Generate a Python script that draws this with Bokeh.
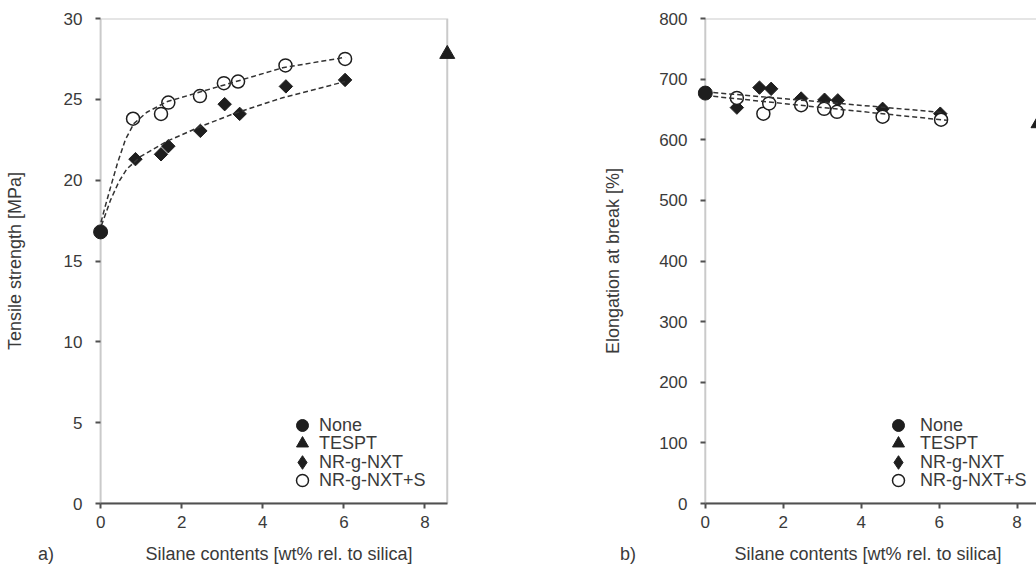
import numpy as np
from bokeh.plotting import figure
from bokeh.layouts import row, column
from bokeh.models import Legend, LegendItem, Range1d, FixedTicker, BoxAnnotation, Div
from bokeh.embed import file_html
from bokeh.resources import INLINE

# ---------------- data ----------------
series_labels = ["None", "TESPT", "NR-g-NXT", "NR-g-NXT+S"]
panel_tags = ["a)", "b)"]
x_label = "Silane contents [wt% rel. to silica]"
x_ticks = [0, 2, 4, 6, 8]
x_max = 8.55

# panel a) tensile strength
a_ylabel = "Tensile strength [MPa]"
a_ticks = [0, 5, 10, 15, 20, 25, 30]
a_ymax = 30
a_none_x = [0.0]
a_none_y = [16.8]
a_tespt_x = [8.55]
a_tespt_y = [27.8]
a_nxt_x = [0.86, 1.49, 1.67, 2.46, 3.06, 3.43, 4.57, 6.03]
a_nxt_y = [21.3, 21.6, 22.1, 23.05, 24.7, 24.1, 25.8, 26.2]
a_nxts_x = [0.80, 1.49, 1.67, 2.45, 3.04, 3.39, 4.56, 6.03]
a_nxts_y = [23.8, 24.1, 24.8, 25.2, 26.0, 26.1, 27.1, 27.5]
a_fit_nxt_x = [0.02, 0.25, 0.45, 0.65, 0.98, 1.63, 2.45, 3.27, 4.49, 6.03]
a_fit_nxt_y = [17.2, 18.8, 19.9, 20.7, 21.45, 22.4, 23.3, 24.1, 25.1, 26.1]
a_fit_nxts_x = [0.01, 0.11, 0.25, 0.41, 0.61, 0.82, 1.14, 1.63, 2.45, 3.27, 4.49, 6.03]
a_fit_nxts_y = [17.4, 18.35, 19.6, 21.0, 22.5, 23.5, 24.2, 24.85, 25.45, 26.05, 26.95, 27.6]

# panel b) elongation at break
b_ylabel = "Elongation at break [%]"
b_ticks = [0, 100, 200, 300, 400, 500, 600, 700, 800]
b_ymax = 800
b_none_x = [0.0]
b_none_y = [677]
b_tespt_x = [8.55]
b_tespt_y = [627]
b_nxt_x = [0.81, 1.39, 1.69, 2.46, 3.06, 3.40, 4.55, 6.03]
b_nxt_y = [653, 686, 684, 668, 666, 665, 651, 643]
b_nxts_x = [0.81, 1.49, 1.64, 2.46, 3.05, 3.38, 4.55, 6.05]
b_nxts_y = [669, 643, 660, 657, 651, 646, 638, 633]
b_fit_nxt_x = [0.0, 6.1]
b_fit_nxt_y = [679, 645]
b_fit_nxts_x = [0.0, 6.2]
b_fit_nxts_y = [673, 632]

# ---------------- style ----------------
FONT = "Liberation Sans"
TXT = "#3a3a3a"
AXC = "#505050"
INK = "#1e1e1e"
# (glyph box size, bottom offset) of each legend row
LEG_ROWS = [(30, 63), (30, 45), (34, 24), (30, 8)]


def make_panel(ymax, yticks, ylabel, x_end, frame_w, mb_left, mb_right,
               ylab_standoff, pts, fits, legend_x, legend_standoff):
    p = figure(frame_width=frame_w, frame_height=485,
               min_border_left=mb_left, min_border_right=mb_right,
               min_border_top=18, min_border_bottom=61,
               x_range=Range1d(-0.2, x_end), y_range=Range1d(0, ymax),
               output_backend="svg", toolbar_location=None,
               background_fill_color="white", border_fill_color="white")
    p.outline_line_color = None
    p.xgrid.visible = False
    p.ygrid.visible = False

    box = BoxAnnotation(left=0, right=x_max, bottom=0, top=ymax,
                        fill_alpha=0, line_color=AXC, line_width=2, level="underlay")
    p.add_layout(box)

    (nx, ny), (tx, ty), (dx, dy), (cx, cy) = pts
    (fdx, fdy), (fcx, fcy) = fits

    p.scatter(dx, dy, marker="square", angle=np.pi / 4, size=9.5,
              fill_color=INK, line_color=INK, line_width=1)
    r_c = p.scatter(cx, cy, marker="circle", size=13, fill_color="white",
                    line_color=INK, line_width=1.5)
    p.line(fdx, fdy, line_dash="5 3", line_color="#333333", line_width=1.5)
    p.line(fcx, fcy, line_dash="5 3", line_color="#333333", line_width=1.5)
    r_n = p.scatter(nx, ny, marker="circle", size=14, fill_color=INK, line_color=INK)
    r_t = p.scatter(tx, ty, marker="triangle", size=15, fill_color=INK, line_color=INK)

    # legend-only diamond renderer (its single point is not drawn: NaN position)
    r_d_leg = p.scatter([np.nan], [np.nan], marker="diamond", fill_color=INK, line_color=INK)

    xa = p.xaxis[0]
    ya = p.yaxis[0]
    xa.ticker = FixedTicker(ticks=x_ticks)
    ya.ticker = FixedTicker(ticks=yticks)
    xa.bounds = (0, x_max)
    xa.axis_label = x_label
    ya.axis_label = ylabel
    for ax in (xa, ya):
        ax.axis_line_color = AXC
        ax.axis_line_width = 2
        ax.major_tick_line_color = AXC
        ax.major_tick_line_width = 2
        ax.minor_tick_line_color = None
        ax.major_label_text_font = FONT
        ax.major_label_text_font_size = "17px"
        ax.major_label_text_color = TXT
        ax.axis_label_text_font = FONT
        ax.axis_label_text_font_size = "18px"
        ax.axis_label_text_font_style = "normal"
        ax.axis_label_text_color = TXT
    xa.major_tick_out = 5
    xa.major_tick_in = 0
    xa.major_label_standoff = 7
    xa.axis_label_standoff = 13
    # y axis sits at the frame edge (x=-0.2); ticks are shifted onto the x=0 box line
    ya.axis_line_color = None
    ya.major_tick_out = -3
    ya.major_tick_in = 8
    ya.major_label_standoff = 10
    ya.axis_label_standoff = ylab_standoff

    renderers = [r_n, r_t, r_d_leg, r_c]
    for lab, r, (gs, ly) in zip(series_labels, renderers, LEG_ROWS):
        shift = (gs - 30) // 2
        leg = Legend(items=[LegendItem(label=lab, renderers=[r])],
                     location=(legend_x - shift, ly), glyph_width=gs, glyph_height=gs,
                     label_height=gs, spacing=0, padding=0, margin=0,
                     label_standoff=legend_standoff - shift, label_text_font=FONT,
                     label_text_font_size="18px", label_text_color=TXT,
                     border_line_color=None, background_fill_alpha=0)
        p.add_layout(leg)
    return p


pa = make_panel(a_ymax, a_ticks, a_ylabel, 9.0, 373, 92, 135, 36,
                [(a_none_x, a_none_y), (a_tespt_x, a_tespt_y),
                 (a_nxt_x, a_nxt_y), (a_nxts_x, a_nxts_y)],
                [(a_fit_nxt_x, a_fit_nxt_y), (a_fit_nxts_x, a_fit_nxts_y)],
                195, 2)

pb = make_panel(b_ymax, b_ticks, b_ylabel, x_max, 341, 92, 2, 33,
                [(b_none_x, b_none_y), (b_tespt_x, b_tespt_y),
                 (b_nxt_x, b_nxt_y), (b_nxts_x, b_nxts_y)],
                [(b_fit_nxt_x, b_fit_nxt_y), (b_fit_nxts_x, b_fit_nxts_y)],
                186, 7)

tag_style = {"font-family": "Liberation Sans", "font-size": "18px",
             "color": TXT, "line-height": "20px"}
div_a = Div(text=panel_tags[0], width=30, height=20, margin=(-22, 0, 0, 38), styles=tag_style)
div_b = Div(text=panel_tags[1], width=30, height=20, margin=(-22, 0, 0, 552), styles=tag_style)

layout = column(row(pa, pb), row(div_a, div_b))
open("out.html", "w").write(file_html(layout, INLINE))
